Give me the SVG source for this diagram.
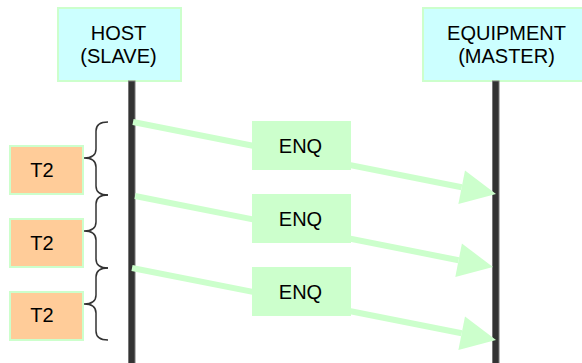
<svg xmlns="http://www.w3.org/2000/svg" width="582" height="363" viewBox="0 0 582 363">
<defs>
<style>
.actor{fill:#ccffff;stroke:#ccffcc;stroke-width:2}
.life{fill:#333333;stroke:#777777;stroke-width:1}
.msg{fill:#ccffcc}
.t2{fill:#ffcc99;stroke:#ccffcc;stroke-width:2}
.brace{fill:none;stroke:#333333;stroke-width:1.5}
.arr{stroke:#ccffcc;stroke-width:6;fill:none;marker-end:url(#ah)}
text{font-family:"Liberation Sans",Arial,sans-serif;font-size:20px;fill:#000;text-anchor:middle}
</style>
<marker id="ah" markerUnits="userSpaceOnUse" markerWidth="36" markerHeight="34" refX="0" refY="17" orient="auto" overflow="visible">
<path d="M0,0 L35,17 L0,34 z" fill="#ccffcc"/>
</marker>
</defs>
<g id="host">
<rect class="actor" x="58" y="8" width="123" height="73"/>
<text x="118.5" y="40">HOST</text>
<text x="118.5" y="63">(SLAVE)</text>
<rect class="life" x="128.5" y="81" width="6.5" height="284"/>
</g>
<g id="equipment">
<rect class="actor" x="423" y="8" width="170" height="73"/>
<text x="506.5" y="40">EQUIPMENT</text>
<text x="506.5" y="63">(MASTER)</text>
<rect class="life" x="492.5" y="81" width="6.5" height="284"/>
</g>
<g id="connectors">
<line class="arr" x1="133" y1="122" x2="461.7" y2="187.2"/>
<line class="arr" x1="135" y1="196" x2="458.6" y2="260.2"/>
<line class="arr" x1="132" y1="268" x2="461.7" y2="333.2"/>
</g>
<g id="enq1"><rect class="msg" x="252" y="121" width="99" height="49"/><text x="300.5" y="152.5">ENQ</text></g>
<g id="enq2"><rect class="msg" x="252" y="194" width="99" height="49"/><text x="300.5" y="225.5">ENQ</text></g>
<g id="enq3"><rect class="msg" x="252" y="267" width="99" height="49"/><text x="300.5" y="298.5">ENQ</text></g>
<g id="t2a"><rect class="t2" x="10" y="146" width="73" height="48"/><text x="42" y="177">T2</text></g>
<g id="t2b"><rect class="t2" x="10" y="219" width="73" height="48"/><text x="42" y="250">T2</text></g>
<g id="t2c"><rect class="t2" x="10" y="292" width="73" height="48"/><text x="42" y="322">T2</text></g>
<g id="braces">
<path class="brace" d="M108,122 Q96,122 96,131 L96,149 Q96,158 84,158 Q96,158 96,167 L96,186 Q96,195 108,195"/>
<path class="brace" d="M108,195 Q96,195 96,204 L96,222 Q96,231 84,231 Q96,231 96,240 L96,259 Q96,268 108,268"/>
<path class="brace" d="M108,268 Q96,268 96,277 L96,295 Q96,304 84,304 Q96,304 96,313 L96,331 Q96,340 108,340"/>
</g>
</svg>
